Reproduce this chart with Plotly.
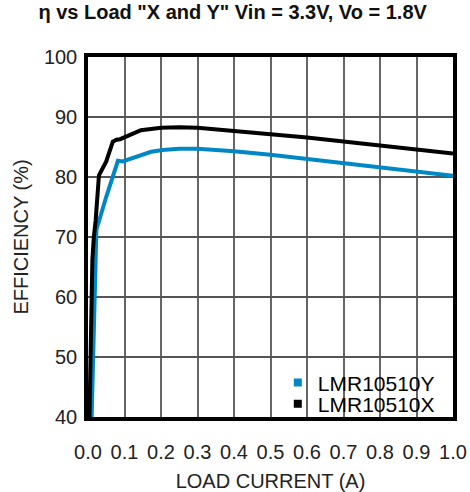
import plotly.graph_objects as go

# Data
x_x = [0.004, 0.007, 0.010, 0.012, 0.016, 0.021, 0.030, 0.050, 0.068, 0.078, 0.088, 0.100,
       0.115, 0.145, 0.200, 0.250, 0.300, 0.400, 0.500, 0.600, 0.700, 0.800, 0.900, 1.000]
eff_x = [40.0, 50.0, 60.0, 66.2, 70.0, 72.8, 80.3, 82.6, 85.9, 86.2, 86.3, 86.6,
         87.1, 87.8, 88.2, 88.3, 88.2, 87.7, 87.1, 86.6, 85.9, 85.2, 84.6, 83.9]

x_y = [0.010, 0.015, 0.019, 0.021, 0.023, 0.050, 0.082, 0.095, 0.110, 0.132, 0.173,
       0.204, 0.250, 0.300, 0.400, 0.500, 0.600, 0.700, 0.800, 0.900, 1.000]
eff_y = [40.0, 50.0, 60.0, 66.0, 71.2, 76.7, 82.7, 82.6, 82.9, 83.4, 84.2,
         84.5, 84.7, 84.7, 84.3, 83.7, 83.0, 82.3, 81.6, 80.9, 80.2]

x_ticks = [0.0, 0.1, 0.2, 0.3, 0.4, 0.5, 0.6, 0.7, 0.8, 0.9, 1.0]
x_tick_labels = ["0.0", "0.1", "0.2", "0.3", "0.4", "0.5", "0.6", "0.7", "0.8", "0.9", "1.0"]
y_ticks = [40, 50, 60, 70, 80, 90, 100]

BLUE = "#0088c4"
FONT = "Liberation Sans, Arial, sans-serif"

fig = go.Figure()
fig.add_trace(go.Scatter(x=x_y, y=eff_y, mode="lines", line=dict(color=BLUE, width=4),
                         showlegend=False))
fig.add_trace(go.Scatter(x=x_x, y=eff_x, mode="lines", line=dict(color="black", width=4),
                         showlegend=False))
# legend entries (square markers)
fig.add_trace(go.Scatter(x=[None], y=[None], mode="markers", name="LMR10510Y",
                         marker=dict(symbol="square", size=8, color=BLUE), legend="legend"))
fig.add_trace(go.Scatter(x=[None], y=[None], mode="markers", name="LMR10510X",
                         marker=dict(symbol="square", size=8, color="black"), legend="legend2"))

legend_common = dict(font=dict(family=FONT, size=21, color="black"),
                     bgcolor="rgba(0,0,0,0)", borderwidth=0,
                     xanchor="left", yanchor="middle", itemwidth=30)

fig.update_layout(
    width=470, height=492,
    margin=dict(l=88, r=17, t=57, b=75),
    paper_bgcolor="white", plot_bgcolor="white",
    font=dict(family=FONT, size=20, color="#222"),
    title=dict(text='<b>η vs Load "X and Y" Vin = 3.3V, Vo = 1.8V</b>',
               x=0.495, xanchor="center", y=0.975, yanchor="middle",
               xref="container", yref="container",
               font=dict(family=FONT, size=20, color="#111")),
    legend=dict(x=0.52, y=0.095, **legend_common),
    legend2=dict(x=0.52, y=0.036, **legend_common),
    xaxis=dict(range=[0, 1], tickvals=x_ticks, ticktext=x_tick_labels,
               showline=True, linecolor="black", linewidth=3.5, mirror=True,
               showgrid=True, gridcolor="#666", gridwidth=1.5, automargin=False,
               ticks="", ticklabelstandoff=14, zeroline=False,
               title=dict(text="LOAD CURRENT (A)", standoff=20,
                          font=dict(family=FONT, size=20, color="#222"))),
    yaxis=dict(range=[40, 100], tickvals=y_ticks,
               showline=True, linecolor="black", linewidth=3.5, mirror=True,
               showgrid=True, gridcolor="#555", gridwidth=1.5, automargin=False,
               ticks="", ticklabelstandoff=3, zeroline=False,
               title=dict(text="EFFICIENCY (%)", standoff=11,
                          font=dict(family=FONT, size=20, color="#222"))),
)

fig.write_html("out.html", config={"displayModeBar": False},
               post_script="document.body.style.margin='0';")
